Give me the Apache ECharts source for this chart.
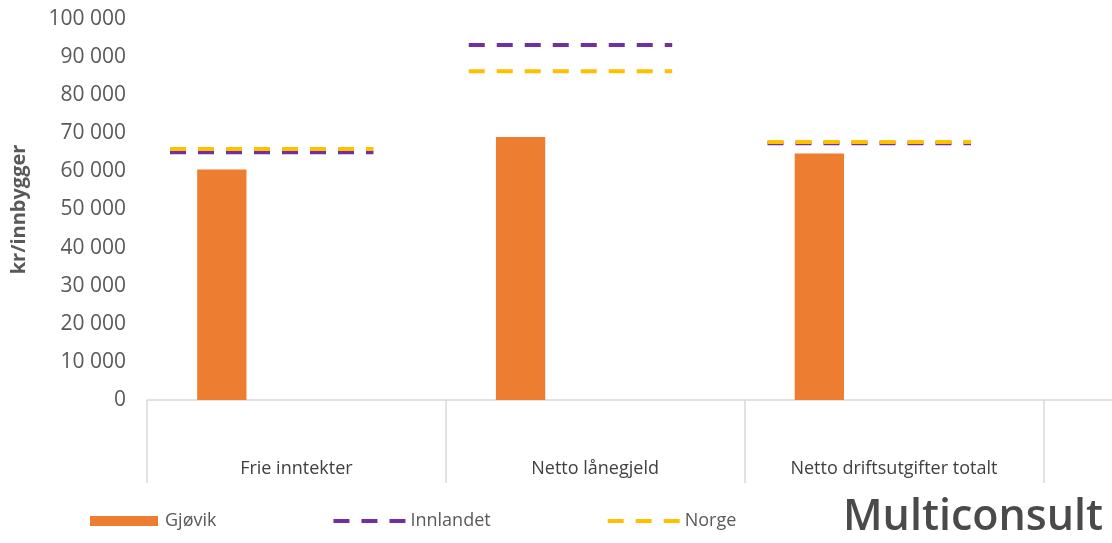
<!DOCTYPE html>
<html>
<head>
<meta charset="utf-8">
<script src="https://cdn.jsdelivr.net/npm/echarts@6/dist/echarts.min.js"></script>
<style>
  html, body { margin: 0; padding: 0; background: #fff; }
  #chart { width: 1112px; height: 543px; }
</style>
</head>
<body>
<div id="chart"></div>
<script>
// kategorier (siste er tom, aksen fortsetter utenfor bildet)
const categories = ['Frie inntekter', 'Netto lånegjeld', 'Netto driftsutgifter totalt', '']
const gjovik = [60500, 69000, 64700]
const innlandet = [65000, 93200, 67400]
const norge = [65900, 86300, 67700]
const yTicks = { min: 0, max: 100000, interval: 10000 }

const chart = echarts.init(document.getElementById('chart'))

const fmt = v => String(v).replace(/\B(?=(\d{3})+(?!\d))/g, ' ')

// søyle forskjøvet mot venstre i kategorien, som i Excel
const renderBar = color => (params, api) => {
  const i = api.value(0)
  const base = api.coord([i, 0])
  const top = api.coord([i, api.value(1)])
  const w = api.size([1, 0])[0]
  return {
    type: 'rect',
    shape: { x: base[0] - w * 0.332, y: top[1], width: w * 0.165, height: base[1] - top[1] },
    style: { fill: color }
  }
}

// stiplet strek over kategorien
const renderDash = color => (params, api) => {
  const i = api.value(0)
  const p = api.coord([i, api.value(1)])
  const w = api.size([1, 0])[0]
  return {
    type: 'line',
    shape: { x1: p[0] - w * 0.423, y1: p[1], x2: p[0] + w * 0.258, y2: p[1] },
    style: { stroke: color, lineWidth: 4, lineDash: [16, 12], fill: null }
  }
}

const dashIcon = 'path://M0,0h16v4h-16z M28,0h16v4h-16z M56,0h16v4h-16z'

chart.setOption({
  animation: false,
  textStyle: { fontFamily: 'Open Sans' },
  grid: {
    left: 147,
    top: 19,
    bottom: 143,
    width: 1195,
    outerBoundsMode: 'none',
    containLabel: false
  },
  xAxis: {
    type: 'category',
    data: categories,
    axisLine: { lineStyle: { color: '#d9d9d9', width: 1.5 } },
    axisTick: { show: true, interval: 0, length: 83, lineStyle: { color: '#d9d9d9', width: 1.5 } },
    axisLabel: { interval: 0, margin: 60, fontSize: 18, color: '#404040' }
  },
  yAxis: {
    type: 'value',
    min: yTicks.min,
    max: yTicks.max,
    interval: yTicks.interval,
    name: 'kr/innbygger',
    nameLocation: 'middle',
    nameGap: 118,
    nameTextStyle: { fontSize: 20, fontWeight: 'bold', color: '#595959' },
    axisLine: { show: false },
    axisTick: { show: false },
    splitLine: { show: false },
    axisLabel: { fontSize: 21, color: '#595959', margin: 21, formatter: fmt }
  },
  legend: {
    left: 85,
    top: 507,
    itemGap: 117,
    itemWidth: 72,
    itemHeight: 10,
    textStyle: { fontSize: 18, color: '#595959' },
    data: [
      { name: 'Gjøvik', icon: 'path://M0,0h68v10h-68z' },
      { name: 'Innlandet', icon: dashIcon },
      { name: 'Norge', icon: dashIcon }
    ]
  },
  series: [{
    name: 'Gjøvik',
    type: 'custom',
    itemStyle: { color: '#ED7D31' },
    renderItem: renderBar('#ED7D31'),
    data: gjovik.map((v, i) => [i, v])
  }, {
    name: 'Innlandet',
    type: 'custom',
    itemStyle: { color: '#7030A0' },
    renderItem: renderDash('#7030A0'),
    data: innlandet.map((v, i) => [i, v])
  }, {
    name: 'Norge',
    type: 'custom',
    itemStyle: { color: '#FFC000' },
    renderItem: renderDash('#FFC000'),
    data: norge.map((v, i) => [i, v])
  }],
  graphic: [{
    type: 'text',
    left: 843,
    top: 496,
    style: {
      text: 'Multiconsult',
      font: '600 43px "Open Sans"',
      fill: '#4a4a4a'
    }
  }]
})
</script>
</body>
</html>
